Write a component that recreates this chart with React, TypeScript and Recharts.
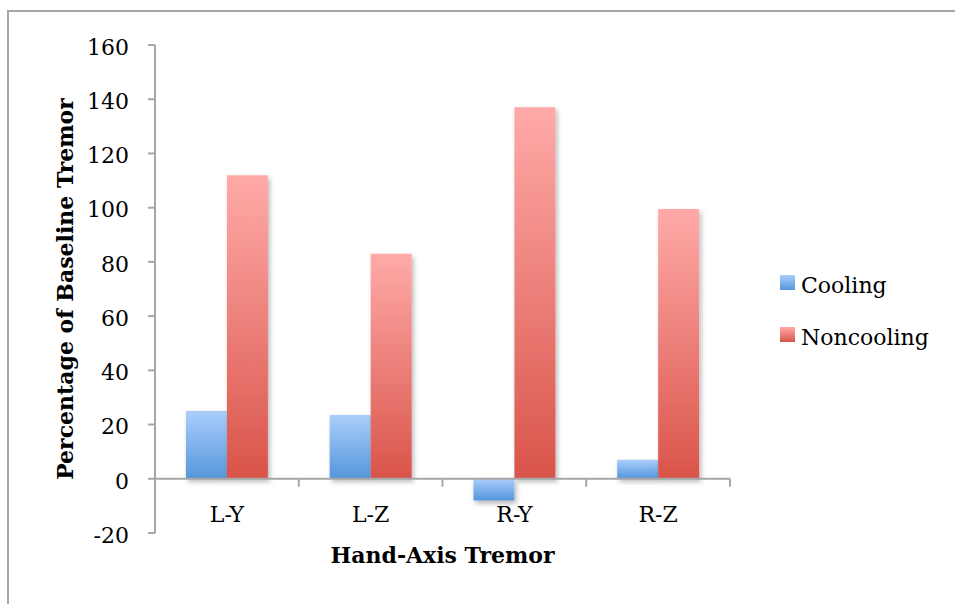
import { Bar, BarChart, Label, ReferenceLine, XAxis, YAxis } from 'recharts';

const categories = ['L-Y', 'L-Z', 'R-Y', 'R-Z'];
const cooling = [25, 23.5, -8, 7];
const noncooling = [112, 83, 137, 99.5];
const yTicks = [-20, 0, 20, 40, 60, 80, 100, 120, 140, 160];
const seriesNames = { cooling: 'Cooling', noncooling: 'Noncooling' };

const data = categories.map((name, i) => ({
  name,
  cooling: cooling[i],
  noncooling: noncooling[i],
}));

const FONT = '"DejaVu Serif", serif';
const AXIS = '#a6a6a6';
const BLUE = { top: '#aacefc', bottom: '#5596dc' };
const RED = { top: '#ffaaa8', bottom: '#d9544a' };

// axis line sits on y = 0, so the category ticks and labels hang off a reference line
function CategoryAxis(props: any) {
  const vb = props.viewBox;
  if (!vb) return null;
  const step = vb.width / categories.length;
  return (
    <g>
      {[...categories, ''].map((_, i) => (
        <line
          key={'t' + i}
          x1={vb.x + step * i}
          x2={vb.x + step * i}
          y1={vb.y}
          y2={vb.y + 8}
          stroke={AXIS}
          strokeWidth={2}
        />
      ))}
      {categories.map((c, i) => (
        <text
          key={c}
          x={vb.x + step * (i + 0.5)}
          y={vb.y + 43}
          textAnchor="middle"
          fontFamily={FONT}
          fontSize={22}
          fill="#000"
        >
          {c}
        </text>
      ))}
      <text
        x={vb.x + vb.width / 2}
        y={vb.y + 84}
        textAnchor="middle"
        fontFamily={FONT}
        fontSize={22}
        fontWeight="bold"
        fill="#000"
      >
        Hand-Axis Tremor
      </text>
    </g>
  );
}

function YTitle(props: any) {
  const vb = props.viewBox;
  if (!vb) return null;
  const x = vb.x + 18;
  const y = vb.y + vb.height / 2;
  return (
    <text
      x={x}
      y={y}
      transform={`rotate(-90, ${x}, ${y})`}
      textAnchor="middle"
      fontFamily={FONT}
      fontSize={22}
      fontWeight="bold"
      fill="#000"
    >
      Percentage of Baseline Tremor
    </text>
  );
}

function LegendBox() {
  const items = [
    { name: seriesNames.cooling, fill: 'url(#legBlue)' },
    { name: seriesNames.noncooling, fill: 'url(#legRed)' },
  ];
  return (
    <svg width={180} height={100} style={{ position: 'absolute', left: 775, top: 260 }}>
      <defs>
        <linearGradient id="legBlue" x1="0" y1="0" x2="0" y2="1">
          <stop offset="0%" stopColor={BLUE.top} />
          <stop offset="100%" stopColor={BLUE.bottom} />
        </linearGradient>
        <linearGradient id="legRed" x1="0" y1="0" x2="0" y2="1">
          <stop offset="0%" stopColor={RED.top} />
          <stop offset="100%" stopColor={RED.bottom} />
        </linearGradient>
      </defs>
      {items.map((it, i) => (
        <g key={it.name} transform={`translate(0, ${i * 52})`}>
          <rect x={5} y={15} width={15} height={15} fill={it.fill} />
          <text x={26} y={33} fontFamily={FONT} fontSize={22} fill="#000">
            {it.name}
          </text>
        </g>
      ))}
    </svg>
  );
}

export default function App() {
  return (
    <div style={{ position: 'absolute', left: 0, top: 0, width: 955, height: 604, background: '#fff' }}>
      <div
        style={{
          position: 'absolute',
          left: 7,
          top: 10,
          width: 960,
          height: 600,
          borderLeft: `2px solid ${AXIS}`,
          borderTop: `2px solid ${AXIS}`,
        }}
      />
      <BarChart
        width={955}
        height={604}
        data={data}
        margin={{ top: 45, right: 225, bottom: 71, left: 55 }}
        barCategoryGap="21.5%"
        barGap={0}
        style={{ position: 'absolute', left: 0, top: 0 }}
      >
        <defs>
          <linearGradient id="gradBlue" x1="0" y1="0" x2="0" y2="1">
            <stop offset="0%" stopColor={BLUE.top} />
            <stop offset="100%" stopColor={BLUE.bottom} />
          </linearGradient>
          <linearGradient id="gradRed" x1="0" y1="0" x2="0" y2="1">
            <stop offset="0%" stopColor={RED.top} />
            <stop offset="100%" stopColor={RED.bottom} />
          </linearGradient>
          <filter id="barShadow" x="-20%" y="-20%" width="150%" height="150%">
            <feDropShadow dx="2" dy="3" stdDeviation="2.5" floodColor="#000" floodOpacity="0.28" />
          </filter>
        </defs>
        <XAxis dataKey="name" hide />
        <YAxis
          width={100}
          domain={[-20, 160]}
          ticks={yTicks}
          interval={0}
          tickSize={7}
          tickMargin={19}
          axisLine={{ stroke: AXIS, strokeWidth: 2 }}
          tickLine={{ stroke: AXIS, strokeWidth: 2 }}
          tick={{ fontFamily: FONT, fontSize: 22, fill: '#000', dy: 2 }}
        >
          <Label content={YTitle} />
        </YAxis>
        <Bar
          dataKey="cooling"
          name={seriesNames.cooling}
          fill="url(#gradBlue)"
          filter="url(#barShadow)"
          isAnimationActive={false}
        />
        <Bar
          dataKey="noncooling"
          name={seriesNames.noncooling}
          fill="url(#gradRed)"
          filter="url(#barShadow)"
          isAnimationActive={false}
        />
        <ReferenceLine y={0} stroke={AXIS} strokeWidth={2} label={CategoryAxis} />
      </BarChart>
      <LegendBox />
    </div>
  );
}
